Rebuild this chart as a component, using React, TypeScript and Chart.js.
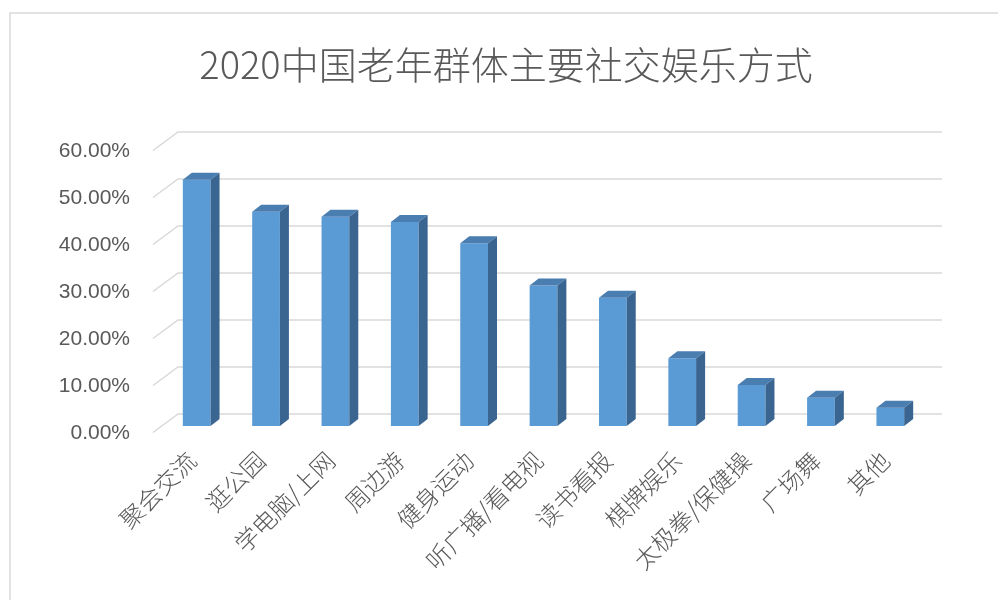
import React, { useEffect, useRef } from "react";
import { Chart, registerables } from "chart.js";

Chart.register(...registerables);

const titleText = "2020中国老年群体主要社交娱乐方式";
const categories = [
  "聚会交流",
  "逛公园",
  "学电脑/上网",
  "周边游",
  "健身运动",
  "听广播/看电视",
  "读书看报",
  "棋牌娱乐",
  "太极拳/保健操",
  "广场舞",
  "其他",
];
const shares = [0.524, 0.456, 0.445, 0.434, 0.389, 0.299, 0.273, 0.144, 0.087, 0.06, 0.039];
const yTickValues = [0, 0.1, 0.2, 0.3, 0.4, 0.5, 0.6];

const FRONT_COLOR = "#5B9BD5";
const TOP_COLOR = "#4A7DB0";
const SIDE_COLOR = "#3A6591";
const GRID_COLOR = "#D9D9D9";
const TEXT_COLOR = "#595959";

// perspective offsets relative to the bar plane
const BAR_DX = 9;
const BAR_DY = -7;
const FRONT_DX = -9;
const FRONT_DY = 6.5;
const BACK_DX = 16;
const BACK_DY = -12;

const threeDPlugin = {
  id: "threeD",
  beforeDraw(chart: any) {
    const { ctx } = chart;
    ctx.save();
    ctx.strokeStyle = GRID_COLOR;
    ctx.lineWidth = 1.5;
    ctx.beginPath();
    ctx.moveTo(10, chart.height + 5);
    ctx.lineTo(10, 13);
    ctx.lineTo(chart.width + 5, 13);
    ctx.stroke();

    ctx.fillStyle = TEXT_COLOR;
    ctx.font = '300 38px "Noto Sans CJK SC"';
    ctx.textAlign = "center";
    ctx.textBaseline = "middle";
    ctx.fillText(titleText, 506, 65);
    ctx.restore();
  },
  beforeDatasetsDraw(chart: any) {
    const { ctx, chartArea: ca } = chart;
    const y = chart.scales.y;
    ctx.save();
    ctx.strokeStyle = GRID_COLOR;
    ctx.lineWidth = 1.5;
    ctx.fillStyle = TEXT_COLOR;
    ctx.font = '21px "Liberation Sans"';
    ctx.textAlign = "right";
    ctx.textBaseline = "middle";
    for (const v of yTickValues) {
      const py = y.getPixelForValue(v);
      ctx.beginPath();
      ctx.moveTo(ca.left + FRONT_DX, py + FRONT_DY);
      ctx.lineTo(ca.left + BACK_DX, py + BACK_DY);
      ctx.lineTo(ca.right + BACK_DX + 1, py + BACK_DY);
      ctx.stroke();
      ctx.fillText((v * 100).toFixed(2) + "%", ca.left - 32, py + FRONT_DY + 1);
    }
    ctx.restore();
  },
  afterDatasetsDraw(chart: any) {
    const { ctx } = chart;
    const meta = chart.getDatasetMeta(0);
    ctx.save();
    meta.data.forEach((bar: any) => {
      const { x, y, base, width } = bar.getProps(["x", "y", "base", "width"], true);
      const l = x - width / 2;
      const r = x + width / 2;
      ctx.fillStyle = TOP_COLOR;
      ctx.beginPath();
      ctx.moveTo(l, y);
      ctx.lineTo(l + BAR_DX, y + BAR_DY);
      ctx.lineTo(r + BAR_DX, y + BAR_DY);
      ctx.lineTo(r, y);
      ctx.closePath();
      ctx.fill();
      ctx.fillStyle = SIDE_COLOR;
      ctx.beginPath();
      ctx.moveTo(r, y);
      ctx.lineTo(r + BAR_DX, y + BAR_DY);
      ctx.lineTo(r + BAR_DX, base + BAR_DY);
      ctx.lineTo(r, base);
      ctx.closePath();
      ctx.fill();
    });
    ctx.restore();
  },
};

export default function App() {
  const canvasRef = useRef<HTMLCanvasElement | null>(null);

  useEffect(() => {
    document.body.style.margin = "0";
    const canvas = canvasRef.current;
    if (!canvas) return;
    const chart = new Chart(canvas, {
      type: "bar",
      data: {
        labels: categories,
        datasets: [
          {
            data: shares,
            backgroundColor: FRONT_COLOR,
            borderWidth: 0,
            barPercentage: 0.4,
            categoryPercentage: 1,
          },
        ],
      },
      options: {
        animation: false,
        responsive: true,
        maintainAspectRatio: false,
        layout: { padding: { left: 162, right: 73, top: 144, bottom: 0 } },
        plugins: {
          legend: { display: false },
          title: { display: false },
          tooltip: { enabled: false },
        },
        scales: {
          x: {
            grid: { display: false },
            border: { display: false },
            ticks: {
              color: TEXT_COLOR,
              font: { family: '"Noto Sans CJK SC"', size: 24, weight: 300 as any },
              minRotation: 45,
              maxRotation: 45,
              autoSkip: false,
              padding: 12,
              labelOffset: -5,
            },
            afterFit: (scale: any) => {
              scale.height = 174;
            },
          },
          y: {
            display: false,
            min: 0,
            max: 0.6,
          },
        },
      },
      plugins: [threeDPlugin],
    });
    return () => chart.destroy();
  }, []);

  return (
    <div style={{ width: 998, height: 600, position: "relative", background: "#fff" }}>
      <canvas ref={canvasRef} />
    </div>
  );
}
